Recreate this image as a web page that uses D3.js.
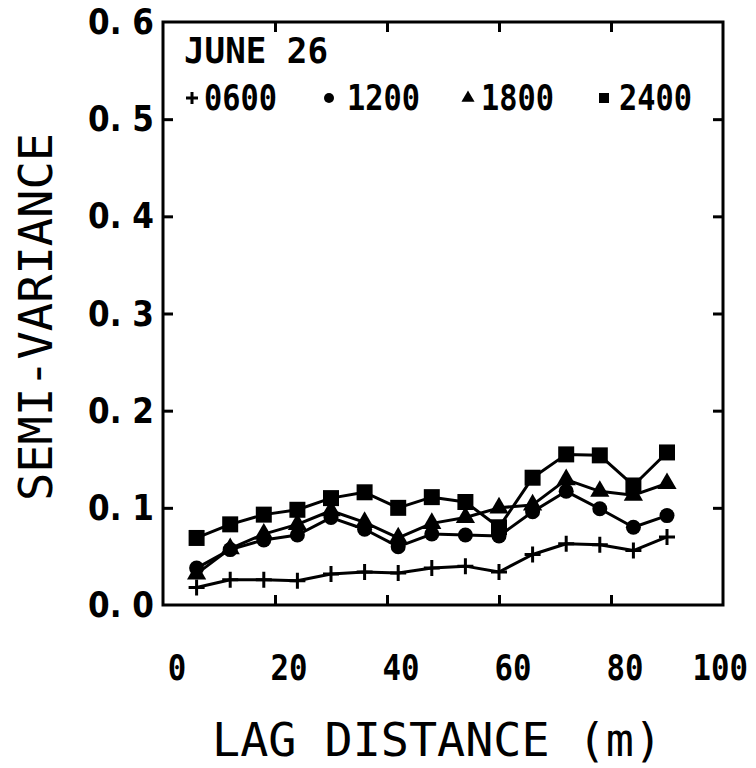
<!DOCTYPE html>
<html>
<head>
<meta charset="utf-8">
<script src="https://cdn.jsdelivr.net/npm/d3@7"></script>
<style>
  html, body { margin: 0; padding: 0; background: #fff; }
  svg { display: block; }
</style>
</head>
<body>
<svg id="chart" width="756" height="768"></svg>
<script>
// ---- data ----
const lags = [6, 12, 18, 24, 30, 36, 42, 48, 54, 60, 66, 72, 78, 84, 90];
const s0600 = [0.018, 0.026, 0.026, 0.025, 0.032, 0.034, 0.033, 0.038, 0.040, 0.034, 0.052, 0.063, 0.062, 0.056, 0.070];
const s1200 = [0.038, 0.057, 0.067, 0.072, 0.090, 0.078, 0.060, 0.073, 0.072, 0.071, 0.096, 0.117, 0.099, 0.080, 0.092];
const s1800 = [0.032, 0.058, 0.073, 0.083, 0.097, 0.085, 0.069, 0.084, 0.090, 0.100, 0.103, 0.129, 0.117, 0.113, 0.125];
const s2400 = [0.069, 0.083, 0.093, 0.098, 0.110, 0.116, 0.100, 0.111, 0.106, 0.080, 0.131, 0.155, 0.154, 0.123, 0.157];
const seriesNames = ["0600", "1200", "1800", "2400"];
const legendTitle = "JUNE 26";
const xTicks = [0, 20, 40, 60, 80, 100];
const xTickLabels = ["0", "20", "40", "60", "80", "100"];
const yTicks = [0, 0.1, 0.2, 0.3, 0.4, 0.5, 0.6];
const yTickLabels = ["0. 0", "0. 1", "0. 2", "0. 3", "0. 4", "0. 5", "0. 6"];
const xTitle = "LAG DISTANCE (m)";
const yTitle = "SEMI-VARIANCE";

// ---- layout ----
const L = 163, R = 723, T = 22, B = 605;
const svg = d3.select("#chart");
const x = d3.scaleLinear().domain([0, 100]).range([L, R]);
const y = d3.scaleLinear().domain([0, 0.6]).range([B, T]);
const ink = "#000";
const monoFont = "'DejaVu Sans Mono', monospace";
const boldSans = "'DejaVu Sans', sans-serif";

// inward ticks on all four sides via d3 axes
const inner = [20, 40, 60, 80];
const innerY = [0.1, 0.2, 0.3, 0.4, 0.5];
function styleAxis(g) {
  g.select(".domain").remove();
  g.selectAll(".tick line").attr("stroke", ink).attr("stroke-width", 3);
  g.selectAll(".tick text").remove();
}
svg.append("g").attr("transform", `translate(0,${B})`)
  .call(d3.axisBottom(x).tickValues(inner).tickSize(-10).tickFormat("")).call(styleAxis);
svg.append("g").attr("transform", `translate(0,${T})`)
  .call(d3.axisTop(x).tickValues(inner).tickSize(-10).tickFormat("")).call(styleAxis);
svg.append("g").attr("transform", `translate(${L},0)`)
  .call(d3.axisLeft(y).tickValues(innerY).tickSize(-10).tickFormat("")).call(styleAxis);
svg.append("g").attr("transform", `translate(${R},0)`)
  .call(d3.axisRight(y).tickValues(innerY).tickSize(-10).tickFormat("")).call(styleAxis);

// frame
svg.append("rect")
  .attr("x", x(0)).attr("y", y(0.6))
  .attr("width", x(100) - x(0)).attr("height", y(0) - y(0.6))
  .attr("fill", "none").attr("stroke", ink).attr("stroke-width", 3);

// y tick labels
svg.append("g").selectAll("text").data(yTicks).join("text")
  .attr("x", L - 9)
  .attr("y", d => y(d))
  .attr("text-anchor", "end")
  .attr("dominant-baseline", "central")
  .attr("font-family", boldSans)
  .attr("font-weight", "bold")
  .attr("font-size", 35)
  .attr("textLength", 66)
  .attr("lengthAdjust", "spacingAndGlyphs")
  .attr("fill", ink)
  .text((d, i) => yTickLabels[i]);

// x tick labels (offset slightly right as in the original plot, kept inside the page)
svg.append("g").selectAll("text").data(xTicks).join("text")
  .attr("x", (d, i) => Math.min(x(d) + 14, 748 - xTickLabels[i].length * 9.25))
  .attr("y", 680)
  .attr("text-anchor", "middle")
  .attr("font-family", monoFont)
  .attr("font-weight", "bold")
  .attr("font-size", 35)
  .attr("textLength", (d, i) => xTickLabels[i].length * 18.5)
  .attr("lengthAdjust", "spacingAndGlyphs")
  .attr("fill", ink)
  .text((d, i) => xTickLabels[i]);

// axis titles
svg.append("text")
  .attr("x", (L + R) / 2 - 6).attr("y", 756)
  .attr("text-anchor", "middle")
  .attr("font-family", monoFont)
  .attr("font-size", 46)
  .attr("textLength", 450)
  .attr("lengthAdjust", "spacingAndGlyphs")
  .attr("fill", ink)
  .text(xTitle);

svg.append("text")
  .attr("transform", "translate(52,317) rotate(-90)")
  .attr("text-anchor", "middle")
  .attr("font-family", monoFont)
  .attr("font-size", 46)
  .attr("textLength", 368)
  .attr("lengthAdjust", "spacingAndGlyphs")
  .attr("fill", ink)
  .text(yTitle);

// markers
function plusPath(h) { return `M${-h},0H${h}M0,${-h}V${h}`; }
const markerDefs = [
  { kind: "plus", big: 8, small: 6 },
  { kind: "circle", big: 7.5, small: 5 },
  { kind: "triangle", big: 160, small: 75 },
  { kind: "square", big: 256, small: 100 }
];
function drawMarker(g, def, cx, cy, big) {
  const s = big ? def.big : def.small;
  if (def.kind === "plus") {
    g.append("path").attr("d", plusPath(s)).attr("transform", `translate(${cx},${cy})`)
      .attr("stroke", ink).attr("stroke-width", 3).attr("fill", "none");
  } else if (def.kind === "circle") {
    g.append("circle").attr("cx", cx).attr("cy", cy).attr("r", s).attr("fill", ink);
  } else if (def.kind === "triangle") {
    g.append("path").attr("d", d3.symbol(d3.symbolTriangle, s)())
      .attr("transform", `translate(${cx},${cy})`).attr("fill", ink);
  } else {
    g.append("path").attr("d", d3.symbol(d3.symbolSquare, s)())
      .attr("transform", `translate(${cx},${cy})`).attr("fill", ink);
  }
}

const allSeries = [s0600, s1200, s1800, s2400];
const line = d3.line().x(d => x(d[0])).y(d => y(d[1]));
allSeries.forEach((vals, si) => {
  const pts = lags.map((l, i) => [l, vals[i]]);
  const g = svg.append("g");
  g.append("path").attr("d", line(pts)).attr("fill", "none")
    .attr("stroke", ink).attr("stroke-width", 3).attr("stroke-linejoin", "round");
  pts.forEach(p => drawMarker(g, markerDefs[si], x(p[0]), y(p[1]), true));
});

// legend
svg.append("text")
  .attr("x", 184).attr("y", 63)
  .attr("font-family", monoFont).attr("font-weight", "bold")
  .attr("font-size", 36)
  .attr("textLength", 144).attr("lengthAdjust", "spacingAndGlyphs")
  .attr("fill", ink).text(legendTitle);

const legMarkX = [192, 329, 468, 604];
const legTextX = [204, 347, 481, 619];
const lg = svg.append("g");
seriesNames.forEach((name, i) => {
  drawMarker(lg, markerDefs[i], legMarkX[i], 98, false);
  lg.append("text")
    .attr("x", legTextX[i]).attr("y", 110)
    .attr("font-family", monoFont).attr("font-weight", "bold")
    .attr("font-size", 36)
    .attr("textLength", 73).attr("lengthAdjust", "spacingAndGlyphs")
    .attr("fill", ink).text(name);
});
</script>
</body>
</html>
